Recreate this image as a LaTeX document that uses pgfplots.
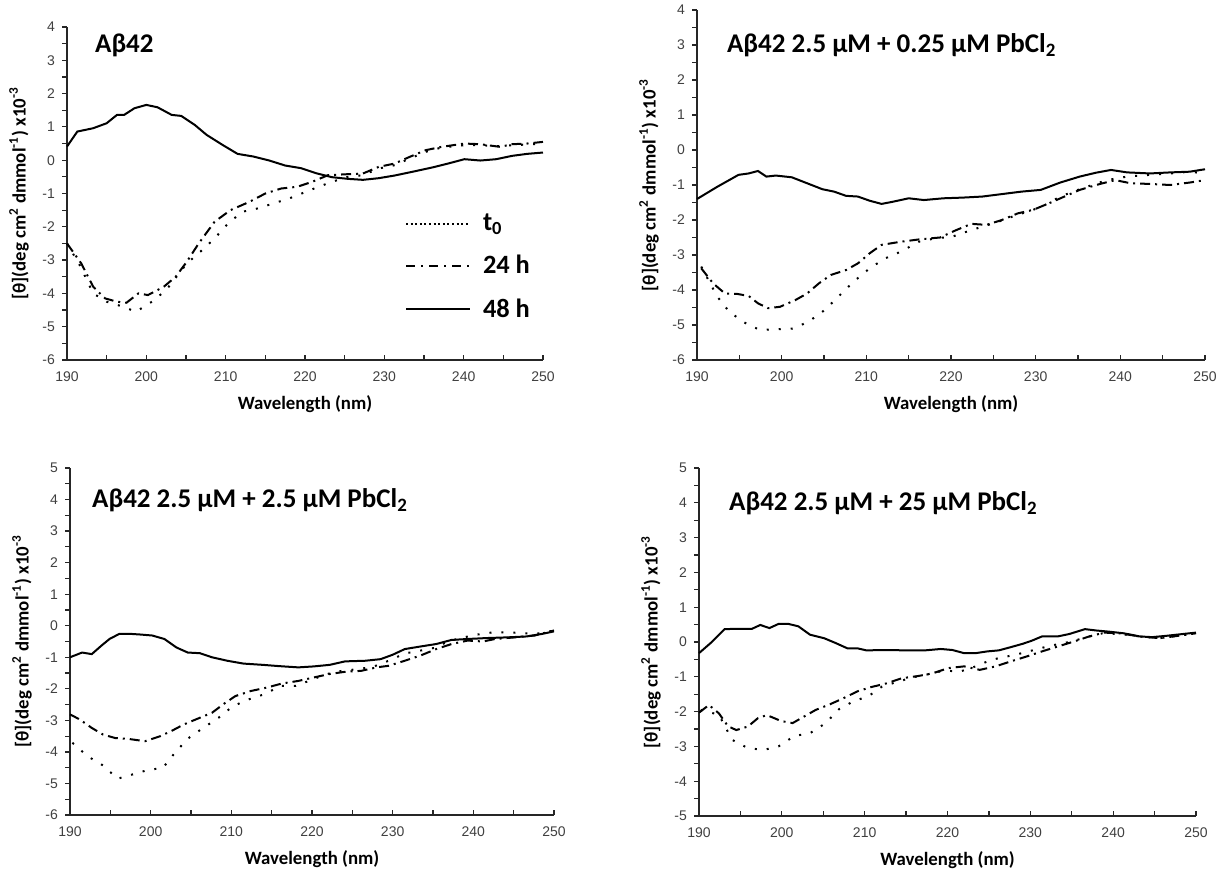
\documentclass[border=0pt]{standalone}
\usepackage{fontspec}
\setmainfont{Carlito}
\newfontfamily\arialf{Liberation Sans}
\usepackage{pgfplots}
\pgfplotsset{compat=1.18}

\pgfplotsset{
  cdpanel/.style={
    scale only axis,
    axis x line=bottom, axis y line=left,
    axis line style={-, line width=0.7pt, black!85},
    xmin=190, xmax=250, xtick={190,200,...,250},
    ytick distance=1,
    minor x tick num=1, minor y tick num=1,
    tick align=outside,
    major tick length=2.5pt, minor tick length=2.5pt,
    tick style={line width=0.6pt, black!85},
    x tick style={yshift=2.5pt},
    ticklabel style={font=\arialf\fontsize{7}{8}\selectfont, text=black!75},
    /pgf/number format/assume math mode=true,
    xlabel={Wavelength (nm)},
    ylabel={[θ](deg cm\textsuperscript{2} dmmol\textsuperscript{-1}) x10\textsuperscript{-3}},
    label style={font=\bfseries\fontsize{9.4}{11}\selectfont},
    clip=false,
  },
  tzero/.style={black, line width=1pt, dash pattern=on 1pt off 5pt},
  tday/.style={black, line width=1pt, dash pattern=on 5pt off 2.5pt on 1pt off 2.5pt},
  ttwo/.style={black, line width=1pt},
}
\tikzset{ttl/.style={anchor=west, inner sep=0pt, font=\bfseries\fontsize{13.5}{15}\selectfont}}

\begin{document}
\begin{tikzpicture}
\useasboundingbox (0,0) rectangle (612pt,434.5pt);

% ---- top left
\begin{axis}[cdpanel, at={(33.5pt,254.5pt)}, anchor=south west,
  width=238pt, height=166.5pt, ymin=-6, ymax=4,
  legend style={at={(axis cs:231.8,-1.37)}, anchor=north west, draw=none, fill=none,
    font=\bfseries\fontsize{13.2}{15}\selectfont, row sep=6.8pt},
  legend cell align=left,
  legend image code/.code={\draw[#1] (0pt,0pt) -- (32pt,0pt); \path (36pt,0pt);}]
\addplot[tzero, forget plot] coordinates {(190,-2.5) (191.6,-3.15) (193.3,-4.0) (195,-4.25) (196.8,-4.38) (198.7,-4.55) (200.7,-4.25) (202.5,-3.9) (205.1,-3.1) (206.8,-2.75) (208.6,-2.35) (210.3,-1.9) (212.1,-1.55) (214,-1.45) (216,-1.3) (218,-1.15) (219.9,-0.97) (221.7,-0.8) (223.4,-0.65) (225.4,-0.5) (227.3,-0.45) (229.3,-0.25) (231.3,-0.15) (233.2,0.05) (235.2,0.25) (237.2,0.38) (240.1,0.45) (242.1,0.45) (244.6,0.42) (246.1,0.45) (248,0.47) (250,0.5)};
\addplot[tday, forget plot] coordinates {(190,-2.5) (191.8,-3.1) (193.3,-3.8) (194.8,-4.15) (196.3,-4.25) (197.5,-4.28) (199,-4.0) (200.2,-4.05) (202.2,-3.8) (203.7,-3.5) (205.1,-3.05) (206.6,-2.5) (208.6,-1.85) (210.6,-1.5) (213,-1.25) (215,-1.0) (217,-0.85) (219,-0.8) (220.9,-0.65) (222.9,-0.45) (225.4,-0.42) (227.3,-0.4) (229.3,-0.2) (231.3,-0.1) (233.2,0.1) (235.2,0.3) (237.2,0.4) (240.1,0.5) (242.1,0.48) (244.6,0.4) (246.1,0.48) (248,0.5) (250,0.55)};
\addplot[ttwo, forget plot] coordinates {(190,0.41) (191.3,0.86) (193.3,0.96) (195,1.11) (196.3,1.36) (197.2,1.36) (198.5,1.56) (200,1.66) (201.4,1.59) (203.2,1.36) (204.4,1.33) (206.1,1.06) (207.6,0.76) (209.6,0.46) (211.5,0.19) (213.5,0.11) (215.5,-0.01) (217.5,-0.16) (219.5,-0.24) (221.4,-0.39) (223.4,-0.51) (225.4,-0.56) (227.3,-0.59) (229.3,-0.54) (231.3,-0.46) (233.7,-0.34) (236.2,-0.21) (238.2,-0.09) (240.1,0.03) (242.1,-0.01) (244.1,0.03) (246.1,0.13) (248,0.19) (250,0.23)};
\addlegendimage{black, line width=0.8pt, dash pattern=on 1pt off 1.3pt}
\addlegendentry{t\textsubscript{0}}
\addlegendimage{black, line width=0.8pt, dash pattern=on 4.5pt off 3pt on 1pt off 3pt}
\addlegendentry{24 h}
\addlegendimage{black, line width=1pt}
\addlegendentry{48 h}
\node[ttl] at (axis cs:193.5,3.46) {Aβ42};
\end{axis}

% ---- top right
\begin{axis}[cdpanel, at={(348.5pt,254.5pt)}, anchor=south west,
  width=254pt, height=175pt, ymin=-6, ymax=4]
\addplot[tzero] coordinates {(190.5,-3.33) (192.4,-4.19) (193.8,-4.62) (195.6,-4.93) (197.4,-5.14) (199.3,-5.12) (201.4,-5.1) (203.2,-4.9) (205.1,-4.57) (206.9,-4.14) (208.5,-3.76) (210.4,-3.38) (212.2,-3.1) (214.1,-2.9) (216.2,-2.62) (218.2,-2.52) (220.1,-2.48) (221.9,-2.33) (223.7,-2.19) (225.6,-2.05) (227.4,-1.89) (229.7,-1.71) (231.1,-1.57) (232.9,-1.33) (235.2,-1.12) (238.4,-0.86) (240.8,-0.76) (243.5,-0.71) (245.9,-0.67) (248.2,-0.62) (250,-0.67)};
\addplot[tday] coordinates {(190.5,-3.38) (191.9,-3.81) (193.3,-4.1) (194.7,-4.11) (196.1,-4.17) (197.2,-4.38) (198.4,-4.52) (199.8,-4.48) (201.6,-4.29) (203,-4.1) (204.4,-3.81) (205.8,-3.57) (207.6,-3.43) (209,-3.24) (210.4,-2.95) (211.8,-2.71) (214.1,-2.62) (216.4,-2.55) (218.7,-2.5) (220.6,-2.29) (222.4,-2.11) (224.2,-2.14) (226,-2.0) (227.9,-1.81) (229.7,-1.71) (231.6,-1.52) (233.4,-1.33) (235.2,-1.14) (237.6,-0.97) (239.4,-0.86) (241.2,-0.95) (243.5,-0.97) (245.9,-1.0) (248.2,-0.93) (250,-0.86)};
\addplot[ttwo] coordinates {(190,-1.4) (192.4,-1.05) (193.8,-0.86) (194.9,-0.71) (196.1,-0.67) (197.2,-0.6) (198.2,-0.76) (199.3,-0.73) (201.2,-0.78) (203,-0.95) (204.8,-1.12) (206.2,-1.19) (207.6,-1.31) (209,-1.33) (210.4,-1.45) (211.8,-1.54) (213.1,-1.48) (215,-1.38) (216.8,-1.43) (219.1,-1.38) (221.4,-1.36) (223.7,-1.33) (226,-1.26) (228.3,-1.19) (230.6,-1.14) (232.9,-0.93) (235.2,-0.76) (237.1,-0.65) (238.9,-0.57) (240.8,-0.64) (243.5,-0.67) (245.9,-0.64) (248.2,-0.62) (250,-0.55)};
\node[ttl] at (axis cs:193.5,3.0) {Aβ42 2.5 μM + 0.25 μM PbCl\textsubscript{2}};
\end{axis}

% ---- bottom left
\begin{axis}[cdpanel, at={(35pt,27pt)}, anchor=south west,
  width=242pt, height=173.5pt, ymin=-6, ymax=5]
\addplot[tzero] coordinates {(190.3,-3.71) (192.2,-4.14) (194.1,-4.43) (195.9,-4.85) (197.8,-4.71) (199.7,-4.57) (201.5,-4.51) (203,-4.03) (204.6,-3.58) (206.5,-3.24) (208.4,-2.92) (210.2,-2.55) (212.2,-2.33) (214.1,-2.17) (216.1,-1.91) (218,-1.91) (219.8,-1.73) (221.7,-1.54) (223.7,-1.43) (225.6,-1.38) (227.6,-1.3) (229.5,-1.11) (231.5,-0.88) (233.4,-0.79) (235.4,-0.69) (236.8,-0.5) (238.8,-0.37) (240.5,-0.28) (242.4,-0.21) (244.4,-0.21) (246.3,-0.24) (248.3,-0.24) (250,-0.15)};
\addplot[tday] coordinates {(190,-2.81) (191.2,-2.97) (192.7,-3.24) (194.1,-3.45) (195.6,-3.56) (197.3,-3.59) (199.3,-3.66) (201.2,-3.5) (202.7,-3.32) (204.1,-3.13) (205.6,-2.97) (207.6,-2.76) (209,-2.49) (210.5,-2.23) (212.4,-2.07) (214.4,-1.96) (216.3,-1.83) (218.3,-1.75) (220.2,-1.64) (222.2,-1.53) (224.1,-1.46) (226.1,-1.43) (228,-1.32) (229.5,-1.27) (231.5,-1.11) (233.4,-0.95) (235.4,-0.74) (237.3,-0.58) (239.3,-0.47) (241.2,-0.5) (242.7,-0.42) (245.1,-0.37) (247.6,-0.31) (250,-0.15)};
\addplot[ttwo] coordinates {(190,-1.0) (191.5,-0.85) (192.7,-0.9) (193.9,-0.63) (194.9,-0.42) (196.1,-0.26) (197.6,-0.26) (198.8,-0.28) (200.2,-0.31) (201.7,-0.42) (203.2,-0.69) (204.6,-0.85) (206.1,-0.87) (207.6,-1.0) (209.5,-1.11) (211.5,-1.2) (213.9,-1.24) (215.9,-1.28) (218.3,-1.32) (220.2,-1.29) (222.2,-1.24) (224.1,-1.13) (226.6,-1.11) (228.5,-1.06) (230,-0.92) (231.5,-0.74) (233.4,-0.66) (235.4,-0.58) (237.3,-0.45) (239.3,-0.42) (241.7,-0.39) (244.1,-0.37) (246.6,-0.34) (248.5,-0.26) (250,-0.18)};
\node[ttl] at (axis cs:192.7,3.98) {Aβ42 2.5 μM + 2.5 μM PbCl\textsubscript{2}};
\end{axis}

% ---- bottom right
\begin{axis}[cdpanel, at={(349.5pt,26.5pt)}, anchor=south west,
  width=248.5pt, height=174pt, ymin=-5, ymax=5]
\addplot[tzero] coordinates {(190.2,-1.95) (192.4,-2.09) (194,-2.81) (195.9,-3.05) (197.8,-3.1) (199.6,-3.0) (201.5,-2.7) (203.4,-2.62) (205.3,-2.33) (206.9,-1.93) (208.6,-1.71) (210.5,-1.55) (212.1,-1.28) (214,-1.14) (215.9,-1.01) (217.8,-0.92) (219.6,-0.82) (221.5,-0.85) (223.4,-0.7) (225.3,-0.51) (227.1,-0.42) (229,-0.32) (231.2,-0.18) (233,-0.08) (234.9,0.01) (236.8,0.14) (238.7,0.25) (240.8,0.23) (243.2,0.16) (245.6,0.11) (247.9,0.18) (250,0.25)};
\addplot[tday] coordinates {(190,-2.03) (191.2,-1.81) (192.4,-2.05) (193.5,-2.42) (194.5,-2.53) (195.9,-2.43) (197.1,-2.19) (198.2,-2.1) (199.9,-2.27) (201.3,-2.33) (202.7,-2.14) (204.1,-1.95) (205.8,-1.79) (207.4,-1.62) (209.1,-1.42) (210.7,-1.3) (212.6,-1.19) (214.5,-1.04) (216.4,-0.98) (218.2,-0.9) (220.1,-0.75) (222,-0.7) (223.9,-0.8) (225.8,-0.7) (227.6,-0.56) (229.5,-0.42) (231.4,-0.27) (233.3,-0.13) (235.2,0.01) (237.1,0.16) (238.9,0.27) (240.8,0.25) (243.2,0.16) (245.6,0.11) (247.9,0.18) (250,0.25)};
\addplot[ttwo] coordinates {(190,-0.32) (191.4,-0.03) (193.1,0.37) (194.7,0.38) (196.4,0.38) (197.4,0.49) (198.5,0.4) (199.6,0.52) (200.8,0.52) (202,0.45) (203.4,0.21) (205.1,0.11) (206.5,-0.03) (207.9,-0.18) (209.1,-0.18) (210.2,-0.24) (212.6,-0.23) (214.9,-0.24) (217.3,-0.24) (219.2,-0.2) (220.6,-0.23) (222,-0.32) (223.4,-0.32) (224.8,-0.27) (226.2,-0.24) (227.6,-0.15) (229.1,-0.05) (230.2,0.04) (231.4,0.16) (233.3,0.16) (234.7,0.23) (236.6,0.37) (238,0.33) (239.4,0.3) (241.3,0.25) (243.2,0.16) (244.7,0.14) (246.5,0.18) (248.4,0.23) (250,0.27)};
\node[ttl] at (axis cs:193.6,3.99) {Aβ42 2.5 μM + 25 μM PbCl\textsubscript{2}};
\end{axis}
\end{tikzpicture}
\end{document}
